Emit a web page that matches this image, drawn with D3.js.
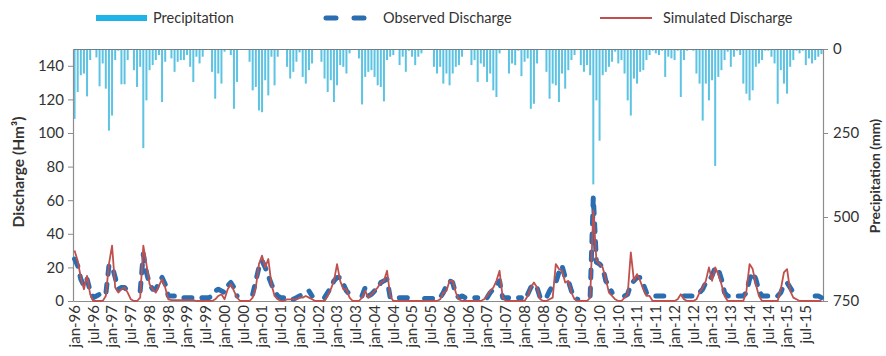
<!DOCTYPE html>
<html>
<head>
<meta charset="utf-8">
<script src="https://cdn.jsdelivr.net/npm/d3@7"></script>
<style>
  body { margin: 0; background: #ffffff; }
  svg { display: block; }
  text { font-family: Lato, "Open Sans", "Liberation Sans", sans-serif; fill: #333333; }
</style>
</head>
<body>
<svg id="chart" width="886" height="356"></svg>
<script>
// Monthly categories, January 1996 to December 2015
const monthNames = ["jan", "feb", "mar", "apr", "may", "jun", "jul", "aug", "sep", "oct", "nov", "dec"];
const yearLabels = ["96", "97", "98", "99", "00", "01", "02", "03", "04", "05",
                    "06", "07", "08", "09", "10", "11", "12", "13", "14", "15"];
const months = yearLabels.flatMap(y => monthNames.map(m => m + "-" + y));

// Monthly precipitation (mm), one row per year
const precipitation = [
  208, 128, 78, 73, 141, 33, 3, 25, 111, 43, 118, 243,
  198, 33, 5, 105, 105, 33, 2, 63, 113, 53, 295, 153,
  63, 48, 33, 18, 158, 38, 0, 28, 68, 38, 33, 33,
  18, 53, 98, 23, 43, 23, 2, 0, 68, 148, 73, 103,
  8, 3, 18, 178, 98, 2, 0, 3, 38, 123, 113, 183,
  188, 93, 138, 23, 108, 23, 2, 0, 53, 88, 68, 38,
  10, 83, 103, 63, 43, 3, 0, 38, 88, 128, 93, 158,
  108, 48, 53, 73, 13, 2, 0, 28, 165, 83, 68, 63,
  83, 108, 113, 156, 33, 23, 18, 3, 48, 23, 68, 5,
  23, 48, 23, 13, 3, 0, 3, 53, 73, 53, 103, 73,
  108, 73, 53, 48, 23, 3, 0, 48, 33, 98, 43, 53,
  98, 73, 123, 143, 13, 2, 0, 73, 43, 48, 5, 81,
  38, 28, 178, 163, 43, 3, 0, 68, 148, 103, 108, 158,
  73, 118, 63, 33, 18, 3, 48, 68, 48, 78, 403, 153,
  273, 78, 68, 53, 38, 8, 43, 33, 73, 153, 198, 88,
  103, 68, 63, 33, 18, 5, 13, 18, 5, 83, 23, 28,
  33, 5, 143, 33, 5, 3, 5, 73, 103, 213, 103, 153,
  93, 348, 83, 63, 33, 8, 53, 23, 5, 18, 103, 133,
  153, 123, 53, 43, 33, 5, 5, 23, 43, 163, 63, 103,
  133, 53, 33, 5, 13, 5, 48, 28, 43, 33, 23, 15
];

// Observed discharge (Hm³); null marks months without a record
const observed = [
  25, 21, 13, 9, 13, 6, 2, 3, 4, 5, 4, 21,
  21, 14, 7, 8, 8, 6, null, null, null, 6, 28, 17,
  10, 7, 7, 11, 14, 10, 3, 3, 3, 3, 2, 2,
  2, 2, 2, 2, 2, 2, 2, 2, 3, 6, 7, 6,
  5, 9, 11, 8, 3, null, null, null, null, 4, 12, 20,
  24, 20, 15, 10, 6, 3, 2, 2, 2, 1, 1, 2,
  3, 4, 5, 6, 3, null, null, null, 2, 5, 8, 12,
  14, 14, 10, 6, 4, null, null, null, 3, 8, 3, 4,
  6, 7, 11, 12, 13, 2, 2, 2, 2, 2, 2, 2,
  null, null, null, null, 1.5, 1.5, 1.5, 1.5, 1.5, 2, 5, 9,
  12, 11, 4, 2, 3, 2, 2, 2, 2, 2, null, null,
  2, 5, 7, 10, 12, 2, 2, 2, 2, 2, 2, 2,
  null, 4, 8, 10, 8, 2, 1, 2, 6, 9, 11, 17,
  21, 14, 12, 6, 2, 1, null, null, null, 3, 62, 23,
  22, 20, 12, 9, 5, null, null, null, 3, 4, 10, 12,
  14, 14, 10, 5, null, null, 3, 3, 3, 3, 3, 3,
  null, null, null, 3, 3, 3, 3, 4, 5, 7, 11, 12,
  15, 20, 19, 13, 5, 3, 3, 3, 3, 3, 3, 5,
  13, 17, 13, 6, 3, 3, 3, 3, 3, 3, 5, 10,
  11, 8, 5, 3, null, null, null, null, null, 3, 3, 2
];

// Simulated discharge (Hm³)
const simulated = [
  30, 24, 14, 7, 15, 4, 0, 0, 0, 0, 3, 22,
  33, 8, 5, 7, 8, 5, 1, 0, 0, 2, 33, 22,
  10, 7, 5, 9, 13, 8, 1, 0.5, 0.5, 0.5, 0.5, 0.5,
  0.5, 0.5, 0.5, 0, 0, 0, 0, 0, 0, 1, 3, 4,
  1, 7, 10, 6, 2, 0, 0, 0, 0, 2, 8, 22,
  27, 20, 25, 10, 3, 1, 0, 0, 1, 1, 1, 1,
  2, 2, 3, 2, 1, 0, 0, 0, 0, 3, 7, 12,
  22, 12, 7, 7, 2, 0, 0, 0, 2, 6, 2, 4,
  6, 8, 11, 12, 18, 3, 0, 0, 0, 0, 0, 0,
  0, 0, 0, 0, 0, 0, 0, 0, 0, 1, 5, 6,
  12, 12, 5, 1, 0, 0, 0, 0, 0, 0, 0, 1,
  3, 6, 8, 12, 18, 2, 0, 0, 0, 0, 0, 0,
  0, 3, 8, 11, 8, 1, 0, 0, 1, 2, 22, 19,
  18, 11, 12, 5, 1, 0, 0, 0, 0, 2, 54, 24,
  22, 20, 13, 5, 3, 1, 0, 0, 2, 4, 29, 12,
  16, 12, 7, 3, 3, 0, 0, 0, 0, 0, 0, 0,
  0, 1, 4, 1, 0, 0, 0, 1, 5, 8, 12, 20,
  12, 20, 16, 10, 3, 0, 0, 0, 0, 0, 0, 6,
  22, 19, 10, 3, 0, 0, 0, 0, 0, 0, 7, 17,
  19, 6, 2, 1, 0, 0, 0, 0, 0, 0, 0, 0
];

const dischargeTicks = [0, 20, 40, 60, 80, 100, 120, 140];
const precipitationTicks = [0, 250, 500, 750];
const monthTickLabels = months.filter((d, i) => i % 6 === 0);

const plot = { left: 73, right: 823, top: 49, bottom: 301 };
const axisColor = "#8c8c8c";

const svg = d3.select("#chart");

const x = d3.scaleBand().domain(months).range([plot.left, plot.right]).padding(0);
const yQ = d3.scaleLinear().domain([0, 150]).range([plot.bottom, plot.top]);
const yP = d3.scaleLinear().domain([0, 750]).range([plot.top, plot.bottom]);

// Precipitation bars hang from the top edge
const barW = 2;
svg.append("g")
  .selectAll("rect")
  .data(months)
  .join("rect")
  .attr("x", (d) => x(d) + (x.bandwidth() - barW) / 2)
  .attr("y", yP(0))
  .attr("width", barW)
  .attr("height", (d, i) => yP(precipitation[i]) - yP(0))
  .attr("fill", "#5cc3e2");

// Axes
const leftAxis = svg.append("g")
  .attr("transform", `translate(${plot.left},0)`)
  .call(d3.axisLeft(yQ).tickValues(dischargeTicks).tickSize(5).tickSizeOuter(0).tickPadding(4));

const rightAxis = svg.append("g")
  .attr("transform", `translate(${plot.right},0)`)
  .call(d3.axisRight(yP).tickValues(precipitationTicks).tickSize(5).tickSizeOuter(0).tickPadding(5));

const bottomAxis = svg.append("g")
  .attr("transform", `translate(0,${plot.bottom})`)
  .call(d3.axisBottom(x).tickValues(monthTickLabels).tickSize(0).tickSizeOuter(0));

const topAxis = svg.append("g")
  .attr("transform", `translate(0,${plot.top})`)
  .call(d3.axisTop(x).tickValues([]).tickSizeOuter(0));

[leftAxis, rightAxis, bottomAxis, topAxis].forEach(g => {
  g.select(".domain").attr("stroke", axisColor).attr("stroke-width", 1.2);
  g.selectAll(".tick line").attr("stroke", axisColor);
  g.selectAll("text").attr("font-size", 15).attr("fill", "#333333")
    .attr("font-family", "Lato, 'Open Sans', sans-serif");
});
topAxis.select(".domain").attr("stroke", "#6f7f88");

bottomAxis.selectAll(".tick text")
  .attr("transform", "rotate(-90)")
  .attr("text-anchor", "end")
  .attr("x", -4)
  .attr("y", 0)
  .attr("dy", "0.36em")
  .attr("font-size", 15);

// Discharge lines
const line = d3.line()
  .defined(d => d[1] !== null)
  .x(d => x(d[0]) + x.bandwidth() / 2)
  .y(d => yQ(d[1]));

svg.append("path")
  .datum(months.map((m, i) => [m, observed[i]]))
  .attr("d", line)
  .attr("fill", "none")
  .attr("stroke", "#2a6db0")
  .attr("stroke-width", 5)
  .attr("stroke-linecap", "round")
  .attr("stroke-linejoin", "round")
  .attr("stroke-dasharray", "8,10");

svg.append("path")
  .datum(months.map((m, i) => [m, simulated[i]]))
  .attr("d", line)
  .attr("fill", "none")
  .attr("stroke", "#c0504d")
  .attr("stroke-width", 1.8)
  .attr("stroke-linejoin", "round");

// Axis titles
svg.append("text")
  .attr("transform", "translate(24,172) rotate(-90)")
  .attr("text-anchor", "middle")
  .attr("font-size", 15.5)
  .attr("font-weight", "bold")
  .attr("fill", "#222222")
  .text("Discharge (Hm³)");

svg.append("text")
  .attr("transform", "translate(880,176) rotate(-90)")
  .attr("text-anchor", "middle")
  .attr("font-size", 14)
  .attr("font-weight", "bold")
  .attr("fill", "#222222")
  .text("Precipitation (mm)");

// Legend
const legend = svg.append("g").attr("font-size", 14.5);
legend.append("rect").attr("x", 96).attr("y", 15).attr("width", 51).attr("height", 6).attr("fill", "#1fb3e8");
legend.append("text").attr("x", 153).attr("y", 23).text("Precipitation");
legend.append("line").attr("x1", 326).attr("x2", 370).attr("y1", 18).attr("y2", 18)
  .attr("stroke", "#2a6db0").attr("stroke-width", 5).attr("stroke-linecap", "round")
  .attr("stroke-dasharray", "10,18");
legend.append("text").attr("x", 383).attr("y", 23).text("Observed Discharge");
legend.append("line").attr("x1", 600).attr("x2", 652).attr("y1", 18).attr("y2", 18)
  .attr("stroke", "#c0504d").attr("stroke-width", 1.8);
legend.append("text").attr("x", 663).attr("y", 23).text("Simulated Discharge");
</script>
</body>
</html>
